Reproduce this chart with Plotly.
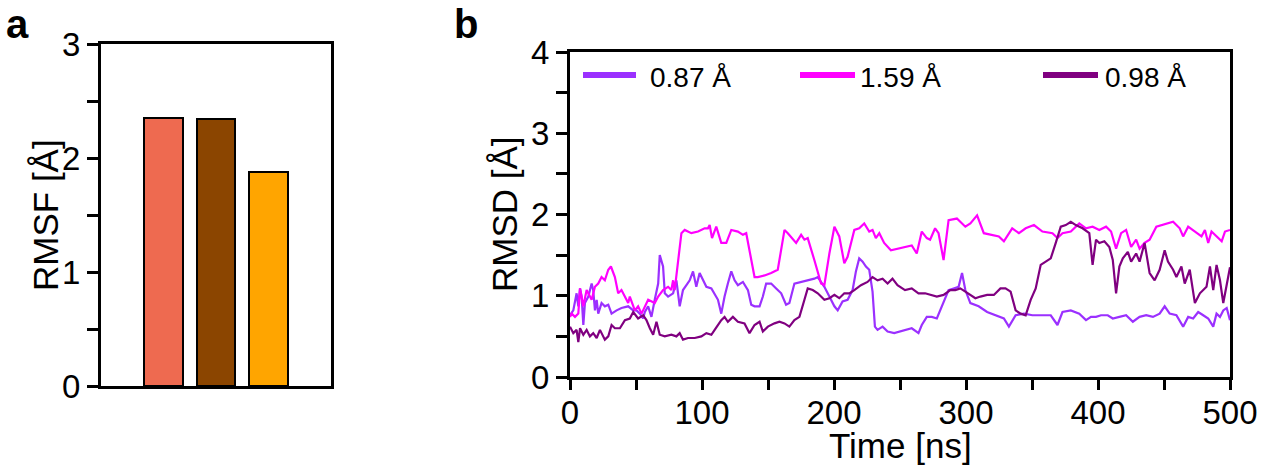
import plotly.graph_objects as go

# ---------------- data ----------------
bar_positions = [0, 1, 2]
rmsf_values = [2.35, 2.34, 1.88]
bar_colors = ["#EE6A50", "#8B4500", "#FFA500"]

series_names = ["0.87 Å", "1.59 Å", "0.98 Å"]
series_colors = ["#9B30FF", "#FF00FF", "#800080"]

t_087 = [0, 2.5, 5.0, 6.3, 7.6, 8.8, 10.1, 11.3, 13.9, 16.4, 17.6, 18.9, 20.2, 21.4, 23.9, 26.4, 29.0, 31.5,
         35.3, 39.0, 44.1, 47.9, 50.4, 52.9, 55.4, 56.7, 59.2, 61.7, 64.2, 66.8, 68.0, 70.5, 71.8, 74.3, 78.1,
         80.6, 83.1, 85.6, 88.2, 90.7, 93.2, 95.7, 98.2, 100.8, 103.3, 107.1, 109.6, 112.1, 114.6, 117.1, 119.6,
         122.2, 124.7, 127.2, 131.0, 134.8, 137.3, 139.8, 143.6, 146.1, 148.6, 152.4, 156.2, 160.0, 163.7, 166.2,
         170.0, 175.1, 180.1, 185.1, 187.7, 190.2, 192.7, 196.5, 200.3, 202.8, 206.5, 210.3, 214.1, 216.6, 219.1,
         221.7, 224.2, 226.7, 229.2, 231.0, 233.0, 236.8, 240.6, 245.6, 250.6, 253.8, 258.9, 264.0, 266.5, 270.3,
         274.1, 277.9, 281.7, 286.8, 290.6, 294.4, 297.0, 299.5, 303.3, 309.6, 316.0, 322.3, 328.7, 332.5, 337.6,
         343.9, 350.3, 357.9, 364.2, 369.3, 373.1, 379.4, 385.8, 390.9, 394.7, 398.5, 402.3, 407.4, 411.2, 416.2,
         421.3, 426.4, 431.5, 436.5, 441.6, 446.7, 450.5, 454.3, 459.4, 464.5, 468.3, 472.1, 475.9, 479.7, 483.5,
         487.3, 489.8, 492.4, 494.9, 497.5, 500]
rmsd_087 = [0.76, 0.82, 1.03, 0.87, 1.09, 0.99, 0.64, 0.91, 0.99, 1.15, 1.07, 0.82, 0.95, 0.78, 0.91, 0.87, 0.89, 0.78,
            0.82, 0.85, 0.87, 0.82, 0.82, 0.78, 0.72, 0.80, 0.87, 0.74, 0.95, 1.15, 1.50, 1.36, 1.03, 0.99, 1.03,
            1.19, 0.87, 1.07, 1.13, 1.19, 1.30, 1.11, 1.28, 1.19, 1.11, 1.09, 1.01, 0.95, 0.78, 0.99, 1.15,
            1.30, 1.19, 1.13, 1.17, 1.07, 0.89, 0.87, 0.87, 0.99, 1.15, 1.15, 1.09, 1.03, 0.89, 0.91,
            1.15, 1.17, 1.19, 1.21, 1.23, 1.17, 1.11, 0.99, 0.87, 0.82, 0.93, 0.95, 1.07, 1.30, 1.46,
            1.42, 1.36, 1.32, 1.05, 0.62, 0.58, 0.62, 0.56, 0.54, 0.56, 0.58, 0.60, 0.54, 0.64, 0.74,
            0.74, 0.72, 0.87, 1.07, 1.09, 1.11, 1.28, 1.07, 0.91, 0.87, 0.80, 0.76, 0.72, 0.62, 0.76,
            0.78, 0.76, 0.76, 0.76, 0.64, 0.80, 0.82, 0.78, 0.70, 0.74, 0.74, 0.76, 0.76, 0.72, 0.74,
            0.76, 0.68, 0.74, 0.76, 0.74, 0.78, 0.87, 0.78, 0.76, 0.62, 0.74, 0.72, 0.80, 0.76, 0.72,
            0.62, 0.78, 0.74, 0.82, 0.85, 0.70]

t_159 = [0, 1.3, 3.8, 6.3, 7.6, 10.1, 12.6, 16.4, 18.9, 21.4, 23.9, 26.4, 29.0, 31.0, 34.0, 36.5, 39.0, 41.6,
         44.1, 45.3, 49.1, 51.6, 54.2, 59.2, 64.2, 66.8, 70.5, 74.3, 76.8, 78.1, 79.3, 84.4, 86.9, 91.9, 97.0,
         102.0, 104.5, 105.8, 107.6, 110.8, 114.6, 118.4, 122.2, 127.2, 131.0, 133.5, 139.8, 142.3, 147.4, 152.4,
         157.4, 162.5, 165.0, 171.3, 175.1, 177.6, 180.1, 185.1, 190.2, 192.7, 196.5, 200.3, 204.0, 207.8, 210.3,
         215.4, 219.1, 222.9, 226.7, 229.2, 231.7, 234.3, 238.0, 243.1, 248.1, 253.8, 258.9, 262.7, 266.5, 270.3,
         272.8, 276.6, 279.2, 283.0, 286.8, 293.1, 299.5, 303.3, 308.4, 313.5, 319.8, 324.9, 328.7, 335.0, 340.1,
         345.2, 351.5, 357.9, 365.5, 369.3, 373.1, 379.4, 385.8, 390.9, 395.9, 401.0, 406.1, 409.9, 413.7, 417.5,
         421.3, 425.1, 428.9, 431.5, 435.3, 439.1, 444.2, 449.2, 456.9, 461.9, 464.5, 468.3, 473.4, 478.4, 481.0,
         483.5, 486.0, 489.8, 493.7, 496.2, 500]
rmsd_159 = [0.74, 0.78, 0.74, 0.78, 1.09, 0.87, 1.07, 0.95, 1.11, 1.15, 1.23, 1.19, 1.32, 1.36, 1.23, 1.03, 1.07, 0.99,
            0.91, 0.99, 0.82, 0.87, 0.78, 0.95, 0.91, 0.99, 1.07, 1.11, 1.07, 1.19, 1.07, 1.77, 1.81, 1.77, 1.79,
            1.83, 1.83, 1.87, 1.71, 1.85, 1.65, 1.65, 1.81, 1.79, 1.75, 1.77, 1.23, 1.23, 1.25, 1.28,
            1.32, 1.81, 1.77, 1.65, 1.75, 1.69, 1.71, 1.44, 1.15, 1.13, 1.52, 1.85, 1.73, 1.40, 1.48,
            1.81, 1.83, 1.89, 1.79, 1.81, 1.71, 1.77, 1.65, 1.56, 1.58, 1.60, 1.62, 1.52, 1.79, 1.71,
            1.69, 1.83, 1.77, 1.44, 1.93, 1.95, 1.85, 1.89, 1.99, 1.77, 1.75, 1.73, 1.67, 1.83, 1.77,
            1.83, 1.87, 1.79, 1.77, 1.71, 1.77, 1.79, 1.89, 1.83, 1.85, 1.81, 1.85, 1.79, 1.58, 1.77,
            1.81, 1.60, 1.69, 1.58, 1.65, 1.69, 1.85, 1.87, 1.91, 1.83, 1.73, 1.85, 1.79, 1.73, 1.81,
            1.65, 1.79, 1.73, 1.67, 1.79, 1.81]

t_098 = [0, 2.5, 5.0, 6.3, 7.6, 10.1, 12.6, 15.1, 17.6, 20.2, 22.7, 26.4, 29.0, 31.5, 34.0, 37.8, 41.6, 45.3,
         47.9, 51.6, 55.4, 57.9, 60.5, 63.0, 65.5, 68.0, 71.8, 76.8, 80.6, 83.1, 85.6, 89.4, 94.5, 99.5, 103.3,
         107.1, 109.6, 114.6, 117.1, 119.6, 123.4, 127.2, 132.2, 136.0, 139.8, 143.6, 146.1, 149.9, 154.9, 158.7,
         162.5, 166.2, 170.0, 173.8, 177.6, 180.1, 183.9, 187.7, 192.7, 196.5, 200.3, 204.0, 207.8, 211.6, 215.4,
         220.4, 225.4, 229.2, 233.0, 236.8, 240.6, 244.3, 248.1, 253.8, 258.9, 264.0, 269.0, 274.1, 277.9, 283.0,
         288.1, 291.9, 295.7, 299.5, 303.3, 307.1, 310.9, 316.0, 321.1, 326.1, 329.9, 333.8, 337.6, 341.4, 345.2,
         349.0, 352.8, 356.6, 360.4, 364.2, 368.0, 371.8, 375.6, 379.4, 383.2, 388.3, 393.4, 395.9, 398.5, 401.0,
         404.8, 408.6, 411.2, 413.7, 416.2, 418.8, 422.6, 425.1, 428.9, 431.5, 435.3, 439.1, 442.9, 446.7, 450.5,
         453.0, 456.9, 459.4, 463.2, 465.7, 469.5, 473.4, 477.2, 479.7, 482.2, 484.8, 487.3, 489.8, 492.4, 494.9,
         497.5, 500]
rmsd_098 = [0.62, 0.54, 0.58, 0.43, 0.60, 0.52, 0.58, 0.50, 0.54, 0.48, 0.58, 0.46, 0.50, 0.64, 0.60, 0.60, 0.70, 0.72,
            0.80, 0.72, 0.76, 0.70, 0.60, 0.52, 0.68, 0.52, 0.50, 0.52, 0.50, 0.54, 0.46, 0.48, 0.48, 0.50, 0.54,
            0.52, 0.58, 0.70, 0.74, 0.68, 0.74, 0.68, 0.66, 0.54, 0.64, 0.68, 0.56, 0.62, 0.66, 0.68,
            0.66, 0.62, 0.70, 0.74, 0.95, 1.09, 1.07, 1.03, 0.95, 0.97, 1.01, 0.97, 1.03, 1.03, 1.07,
            1.13, 1.17, 1.23, 1.19, 1.21, 1.15, 1.21, 1.13, 1.07, 1.09, 1.03, 1.03, 1.01, 0.99, 1.01,
            1.07, 1.07, 1.09, 1.05, 1.01, 0.97, 0.99, 1.01, 1.01, 1.09, 1.09, 1.05, 0.82, 0.78, 0.76,
            0.95, 1.09, 1.38, 1.42, 1.46, 1.65, 1.85, 1.87, 1.91, 1.87, 1.83, 1.77, 1.38, 1.69, 1.65,
            1.67, 1.60, 1.44, 1.03, 1.36, 1.46, 1.54, 1.42, 1.52, 1.42, 1.65, 1.28, 1.19, 1.32, 1.56,
            1.42, 1.32, 1.23, 1.36, 1.15, 1.32, 0.91, 1.03, 1.07, 1.11, 1.36, 1.07, 1.38, 1.19, 0.91,
            1.15, 1.35]

left_ytickvals = [0, 0.5, 1, 1.5, 2, 2.5, 3]
left_yticktext = ["0", "", "1", "", "2", "", "3"]
right_ytickvals = [0, 0.5, 1, 1.5, 2, 2.5, 3, 3.5, 4]
right_yticktext = ["0", "", "1", "", "2", "", "3", "", "4"]
right_xtickvals = [0, 50, 100, 150, 200, 250, 300, 350, 400, 450, 500]
right_xticktext = ["0", "", "100", "", "200", "", "300", "", "400", "", "500"]

FONT = "Liberation Sans, Arial, sans-serif"
W, H = 1269, 466

fig = go.Figure()

fig.add_trace(go.Bar(
    x=bar_positions, y=rmsf_values, width=0.73,
    marker=dict(color=bar_colors, line=dict(color="black", width=2)),
    xaxis="x", yaxis="y", showlegend=False,
))

series = [(t_087, rmsd_087), (t_159, rmsd_159), (t_098, rmsd_098)]
for (tt, vv), name, col in zip(series, series_names, series_colors):
    fig.add_trace(go.Scatter(
        x=tt, y=vv, mode="lines", name=name,
        line=dict(color=col, width=2.2),
        xaxis="x2", yaxis="y2", showlegend=False,
    ))

axis_common = dict(
    showline=True, linecolor="black", linewidth=3, mirror=True,
    showgrid=False, zeroline=False, automargin=False,
    tickfont=dict(family=FONT, size=33, color="black"),
    ticks="outside", ticklen=11, tickwidth=3, tickcolor="black",
)
TITLE_FONT = dict(family=FONT, size=35, color="black")

fig.update_layout(
    width=W, height=H,
    margin=dict(l=0, r=0, t=0, b=0, autoexpand=False),
    paper_bgcolor="white", plot_bgcolor="white",
    font=dict(family=FONT, color="black"),
    bargap=0,
    xaxis=dict(domain=[101 / W, 331 / W], range=[-1.19, 3.19],
               showline=True, linecolor="black", linewidth=3, mirror=True, automargin=False,
               showgrid=False, zeroline=False, showticklabels=False, ticks="",
               anchor="y"),
    yaxis=dict(domain=[1 - 386 / H, 1 - 44 / H], range=[0, 3],
               tickvals=left_ytickvals, ticktext=left_yticktext,
               anchor="x", **axis_common),
    xaxis2=dict(domain=[570 / W, 1230 / W], range=[0, 500],
                tickvals=right_xtickvals, ticktext=right_xticktext,
                ticklabelstandoff=-6,
                anchor="y2", **{**axis_common, "ticklen": 10}),
    yaxis2=dict(domain=[1 - 377 / H, 1 - 52 / H], range=[0, 4],
                tickvals=right_ytickvals, ticktext=right_yticktext,
                anchor="x2", **axis_common),
)

# axis titles
fig.add_annotation(text="RMSF [Å]", x=45 / W, y=1 - 215 / H, xref="paper", yref="paper",
                   xanchor="center", yanchor="middle", textangle=-90, showarrow=False, font=TITLE_FONT)
fig.add_annotation(text="RMSD [Å]", x=505 / W, y=1 - 214 / H, xref="paper", yref="paper",
                   xanchor="center", yanchor="middle", textangle=-90, showarrow=False, font=TITLE_FONT)
fig.add_annotation(text="Time [ns]", x=900 / W, y=1 - 445 / H, xref="paper", yref="paper",
                   xanchor="center", yanchor="middle", showarrow=False, font=TITLE_FONT)

# panel labels
fig.add_annotation(text="<b>a</b>", x=4 / W, y=1 - 0 / H, xref="paper", yref="paper",
                   xanchor="left", yanchor="top", showarrow=False,
                   font=dict(family=FONT, size=40, color="black"))
fig.add_annotation(text="<b>b</b>", x=452 / W, y=1 - 0 / H, xref="paper", yref="paper",
                   xanchor="left", yanchor="top", showarrow=False,
                   font=dict(family=FONT, size=40, color="black"))

# legend (manual, inside right panel)
leg_x0 = [583, 800, 1043]
leg_x1 = [636, 855, 1098]
leg_tx = [648, 858, 1103]
for name, col, a, b, tx in zip(series_names, series_colors, leg_x0, leg_x1, leg_tx):
    fig.add_shape(type="line", xref="paper", yref="paper",
                  x0=a / W, x1=b / W, y0=1 - 75 / H, y1=1 - 75 / H,
                  line=dict(color=col, width=6))
    fig.add_annotation(text=name, x=tx / W, y=1 - 77 / H, xref="paper", yref="paper",
                       xanchor="left", yanchor="middle", showarrow=False,
                       font=dict(family=FONT, size=28, color="black"))

fig.write_html("out.html")
